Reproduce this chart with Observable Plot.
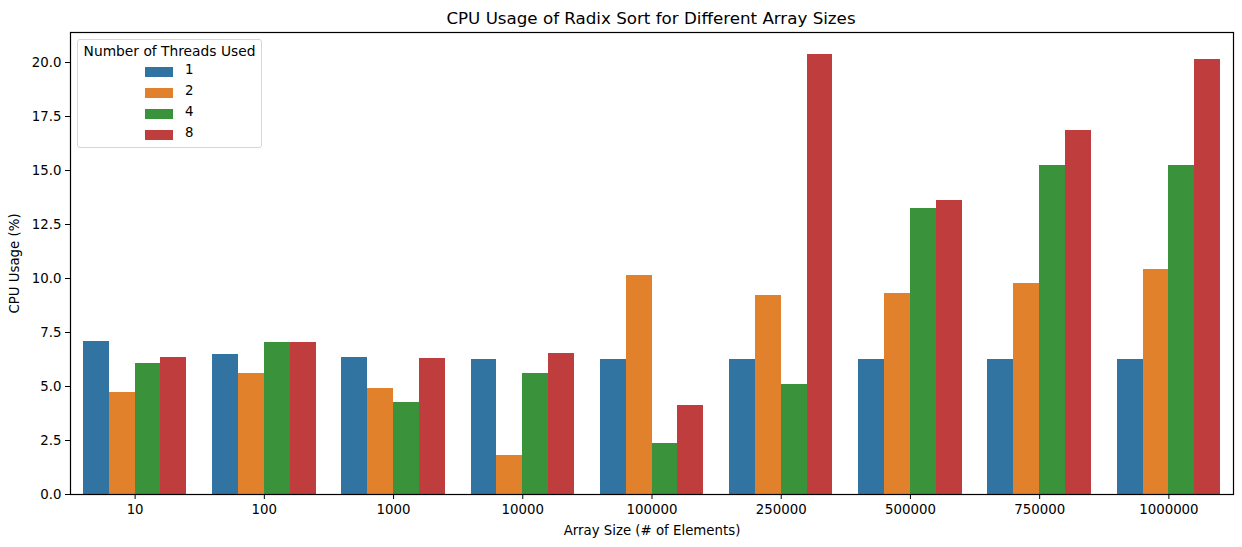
<!DOCTYPE html>
<html>
<head>
<meta charset="utf-8">
<script src="https://cdn.jsdelivr.net/npm/d3@7"></script>
<script src="https://cdn.jsdelivr.net/npm/@observablehq/plot@0.6"></script>
<style>
  body { margin: 0; background: white; font-family: "DejaVu Sans", sans-serif; position: relative; width: 1242px; height: 547px; overflow: hidden; }
  #title { height: 26px; width: 1242px; position: relative; }
  #title span { position: absolute; left: 651px; top: 8px; transform: translateX(-50%); font-size: 16.7px; white-space: nowrap; color: black; }
  #legend { position: absolute; left: 77px; top: 39px; width: 183px; height: 107px; border: 1px solid #d6d6d6; border-radius: 3px; background: rgba(255,255,255,0.8); font-size: 13.33px; color: black; }
  #legend .lt { position: absolute; left: 0; width: 100%; top: 3px; text-align: center; white-space: nowrap; font-size: 13.8px; }
  #legend .row { position: absolute; left: 67px; height: 16px; }
  #legend .sw { position: absolute; left: 0; top: 3px; width: 28px; height: 10px; }
  #legend .lb { position: absolute; left: 40px; top: -2px; }
</style>
</head>
<body>
<div id="title"><span>CPU Usage of Radix Sort for Different Array Sizes</span></div>
<div id="chart"></div>
<div id="legend"></div>
<script>
const sizes = ["10", "100", "1000", "10000", "100000", "250000", "500000", "750000", "1000000"];
const threads = ["1", "2", "4", "8"];
const cpu1 = [7.08, 6.48, 6.34, 6.25, 6.25, 6.25, 6.25, 6.25, 6.25];
const cpu2 = [4.72, 5.60, 4.91, 1.81, 10.14, 9.21, 9.31, 9.77, 10.42];
const cpu4 = [6.06, 7.04, 4.26, 5.60, 2.36, 5.09, 13.24, 15.23, 15.23];
const cpu8 = [6.34, 7.04, 6.30, 6.53, 4.12, 20.37, 13.61, 16.85, 20.14];
const yTicks = [0, 2.5, 5, 7.5, 10, 12.5, 15, 17.5, 20];
const colors = ["#3274a1", "#e1812c", "#3a923a", "#c03d3e"];

const series = [cpu1, cpu2, cpu4, cpu8];
const rows = [];
sizes.forEach((s, i) => threads.forEach((t, j) => rows.push({size: s, threads: t, cpu: series[j][i]})));

const chart = Plot.plot({
  width: 1242,
  height: 521,
  marginTop: 6,
  marginBottom: 53,
  marginLeft: 70,
  marginRight: 9,
  facet: {marginLeft: 0, marginRight: 0, marginTop: 0, marginBottom: 0},
  style: {fontFamily: "DejaVu Sans", fontSize: "13.33px", color: "black", background: "white"},
  fx: {domain: sizes, padding: 0, round: false, axis: "bottom", label: "Array Size (# of Elements)", labelAnchor: "center", labelOffset: 40, labelArrow: "none", tickSize: 5, tickPadding: 5},
  x: {domain: threads, axis: null, paddingInner: 0, paddingOuter: 0.5, round: false},
  y: {domain: [0, 21.39], ticks: yTicks, tickFormat: d3.format(".1f"), label: "CPU Usage (%)", labelAnchor: "center", labelOffset: 61, labelArrow: "none", tickSize: 5, tickPadding: 4},
  color: {domain: threads, range: colors},
  marks: [
    Plot.barY(rows, {fx: "size", x: "threads", y: "cpu", fill: "threads", shapeRendering: "crispEdges"}),
    Plot.frame({facet: "super", stroke: "black", strokeWidth: 1.2})
  ]
});
document.getElementById("chart").appendChild(chart);

const legend = document.getElementById("legend");
const lt = document.createElement("div");
lt.className = "lt";
lt.textContent = "Number of Threads Used";
legend.appendChild(lt);
threads.forEach((t, j) => {
  const row = document.createElement("div");
  row.className = "row";
  row.style.top = (24 + j * 21) + "px";
  const sw = document.createElement("div");
  sw.className = "sw";
  sw.style.background = colors[j];
  const lb = document.createElement("div");
  lb.className = "lb";
  lb.textContent = t;
  row.appendChild(sw);
  row.appendChild(lb);
  legend.appendChild(row);
});
</script>
</body>
</html>
